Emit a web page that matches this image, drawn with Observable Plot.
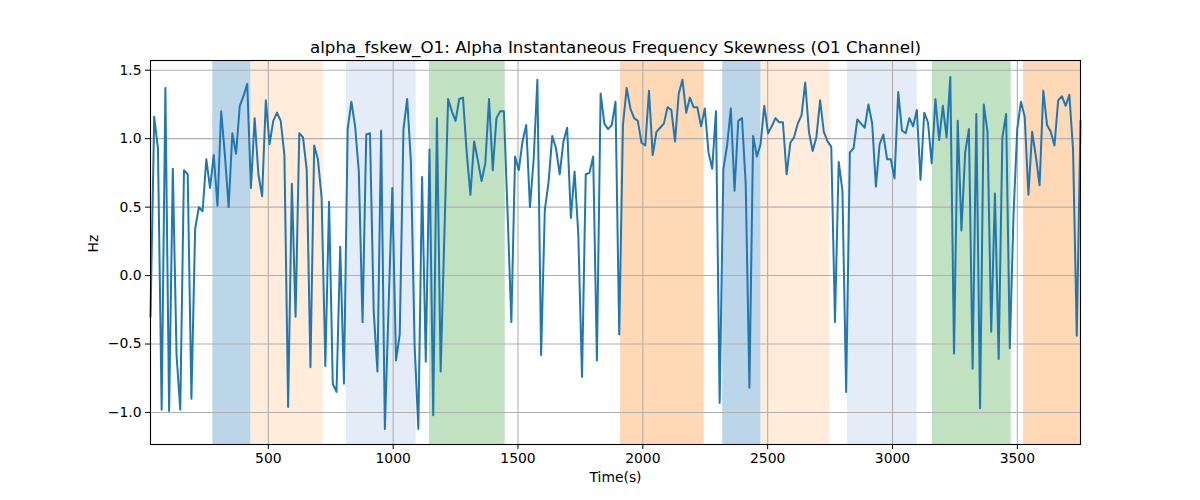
<!DOCTYPE html>
<html><head><meta charset="utf-8">
<script src="https://cdn.jsdelivr.net/npm/d3@7"></script>
<script src="https://cdn.jsdelivr.net/npm/@observablehq/plot@0.6"></script>
<style>body{margin:0;background:#fff}</style>
</head><body><div id="chart"></div>
<script>
const title = "alpha_fskew_O1: Alpha Instantaneous Frequency Skewness (O1 Channel)";
const xLabel = "Time(s)";
const yLabel = "Hz";
const tStart = 28, tEnd = 3753;
const values = [
 -0.30, 1.16, 0.93, -0.98, 1.37, -0.99, 0.78, -0.58, -0.98, 0.77,
 0.74, -0.90, 0.34, 0.50, 0.47, 0.85, 0.64, 0.88, 0.51, 1.20,
 0.88, 0.50, 1.04, 0.89, 1.24, 1.31, 1.40, 0.64, 1.15, 0.74,
 0.58, 1.28, 0.96, 1.13, 1.19, 1.13, 0.88, -0.96, 0.67, -0.30,
 1.04, 1.01,
 0.77, -0.67, 0.95, 0.85, 0.57, -0.66, 0.54, -0.79, -0.85, 0.21,
 -0.79, 1.07, 1.27, 1.09, 0.76, -0.34, 1.03, 1.04, -0.26, -0.70,
 1.06, -1.12, -0.23, 0.64, -0.62, -0.43, 1.07, 1.29, 0.83, -0.51,
 -1.12, 0.72, -0.63, 0.92, -1.02, 1.15, -0.70, 0.30, 1.29, 1.20,
 1.13, 1.29, 1.30, 0.90, 0.59, 0.98, 0.84, 0.69, 0.82, 1.29,
 0.77, 1.15, 1.20, 1.20, 0.45, -0.34, 0.87, 0.77, 0.98, 1.10,
 0.50, 0.85, 1.43, -0.58, 0.48, 0.68, 1.02, 0.93, 0.74, 0.98,
 1.08, 0.42, 0.76, 0.30, -0.74, 0.74, 0.75, 0.87, -0.62, 1.33,
 1.11, 1.07, 1.10, 1.27,
 -0.43, 1.10, 1.37, 1.22, 1.15, 1.13, 0.97, 0.95, 1.35, 0.88,
 1.05, 1.08, 1.11, 1.23, 1.21, 0.98, 1.33, 1.43, 1.19, 1.30,
 1.23, 1.23, 1.09, 1.22, 0.90, 0.78, 1.20, -0.93, 0.78, 0.95,
 1.22, 0.62, 1.13, 1.15, 0.67, -0.82, 1.02, 0.87, 0.96, 1.24,
 1.04,
 1.09, 1.15, 1.12, 1.12, 0.74, 0.97, 1.01, 1.11, 1.17, 1.41,
 1.05, 0.91, 1.01, 1.28, 1.05, 0.98, 0.94, -0.34, 0.83, 0.62,
 -0.85, 0.90, 0.93, 1.14, 1.11, 1.08, 1.25, 1.11, 0.65, 0.96,
 1.03, 0.85, 0.85, 0.71, 1.34, 1.06, 1.04, 1.15, 1.09, 1.21,
 0.70, 1.19,
 1.12, 0.82, 1.29, 0.99, 1.24, 1.01, 1.45, -0.57, 1.13, 0.33,
 0.90, 1.07, -0.68, 1.18, -0.97, 1.25, 1.05, -0.41, 0.60, -0.61,
 1.01, 1.18, -0.53, 0.45, 1.07, 1.27, 1.16, 0.59, 1.05, 0.87,
 0.66, 1.35, 1.10, 1.05, 0.95, 1.28, 1.31, 1.24, 1.32, 0.92,
 -0.44, 1.13
];
// sampling grid: evenly spaced windows between first and last time
const times = values.map((_, i) => tStart + i * (tEnd - tStart) / (values.length - 1));

const spanStart = [277.5, 431, 813, 1145.5, 1910.5, 2320, 2474, 2820, 3160, 3525];
const spanEnd   = [431, 720, 1092, 1449, 2246, 2474, 2750, 3099, 3475.5, 3753];
const spanColor = ["#bcd6e9", "#ffecdb", "#e4ecf7", "#c0e2c0", "#ffd8b6",
                   "#bcd6e9", "#ffecdb", "#e4ecf7", "#c0e2c0", "#ffd8b6"];
const xTicks = [500, 1000, 1500, 2000, 2500, 3000, 3500];
const yTicks = [-1.0, -0.5, 0.0, 0.5, 1.0, 1.5];
const yDomain = [-1.234, 1.571];

const data = times.map((t, i) => ({t, v: values[i]}));
const spans = spanStart.map((s, i) => ({x1: s, x2: spanEnd[i], c: spanColor[i]}));

const chart = Plot.plot({
  width: 1200, height: 500,
  marginLeft: 150, marginRight: 120, marginTop: 60, marginBottom: 56,
  style: {fontFamily: "DejaVu Sans", fontSize: "13.9px", color: "#000", background: "#fff", overflow: "visible"},
  x: {domain: [tStart, tEnd], label: null},
  y: {domain: yDomain, label: null},
  color: {type: "identity"},
  marks: [
    Plot.rect(spans, {x1: "x1", x2: "x2", fill: "c"}),
    Plot.gridX(xTicks, {stroke: "#b0b0b0", strokeOpacity: 1, strokeWidth: 1.1}),
    Plot.gridY(yTicks, {stroke: "#b0b0b0", strokeOpacity: 1, strokeWidth: 1.1}),
    Plot.line(data, {x: "t", y: "v", stroke: "#1f77b4", strokeWidth: 2}),
    Plot.frame({stroke: "#000", strokeWidth: 1.1}),
    Plot.axisX(xTicks, {tickSize: 5, tickPadding: 4, tickFormat: d3.format("d"), fontSize: 13.9, stroke: "#000"}),
    Plot.axisY(yTicks, {tickSize: 5, tickPadding: 4, tickFormat: d3.format(".1f"), fontSize: 13.9, stroke: "#000"}),
    Plot.text([title], {text: d => d, frameAnchor: "top", dy: -19, fontSize: 16.7, fill: "#000"}),
    Plot.text([xLabel], {text: d => d, frameAnchor: "bottom", dy: 37, fontSize: 13.9, fill: "#000"}),
    Plot.text([yLabel], {text: d => d, frameAnchor: "left", dx: -57, rotate: -90, fontSize: 13.9, fill: "#000"})
  ]
});
document.getElementById("chart").appendChild(chart);
</script>
</body></html>
